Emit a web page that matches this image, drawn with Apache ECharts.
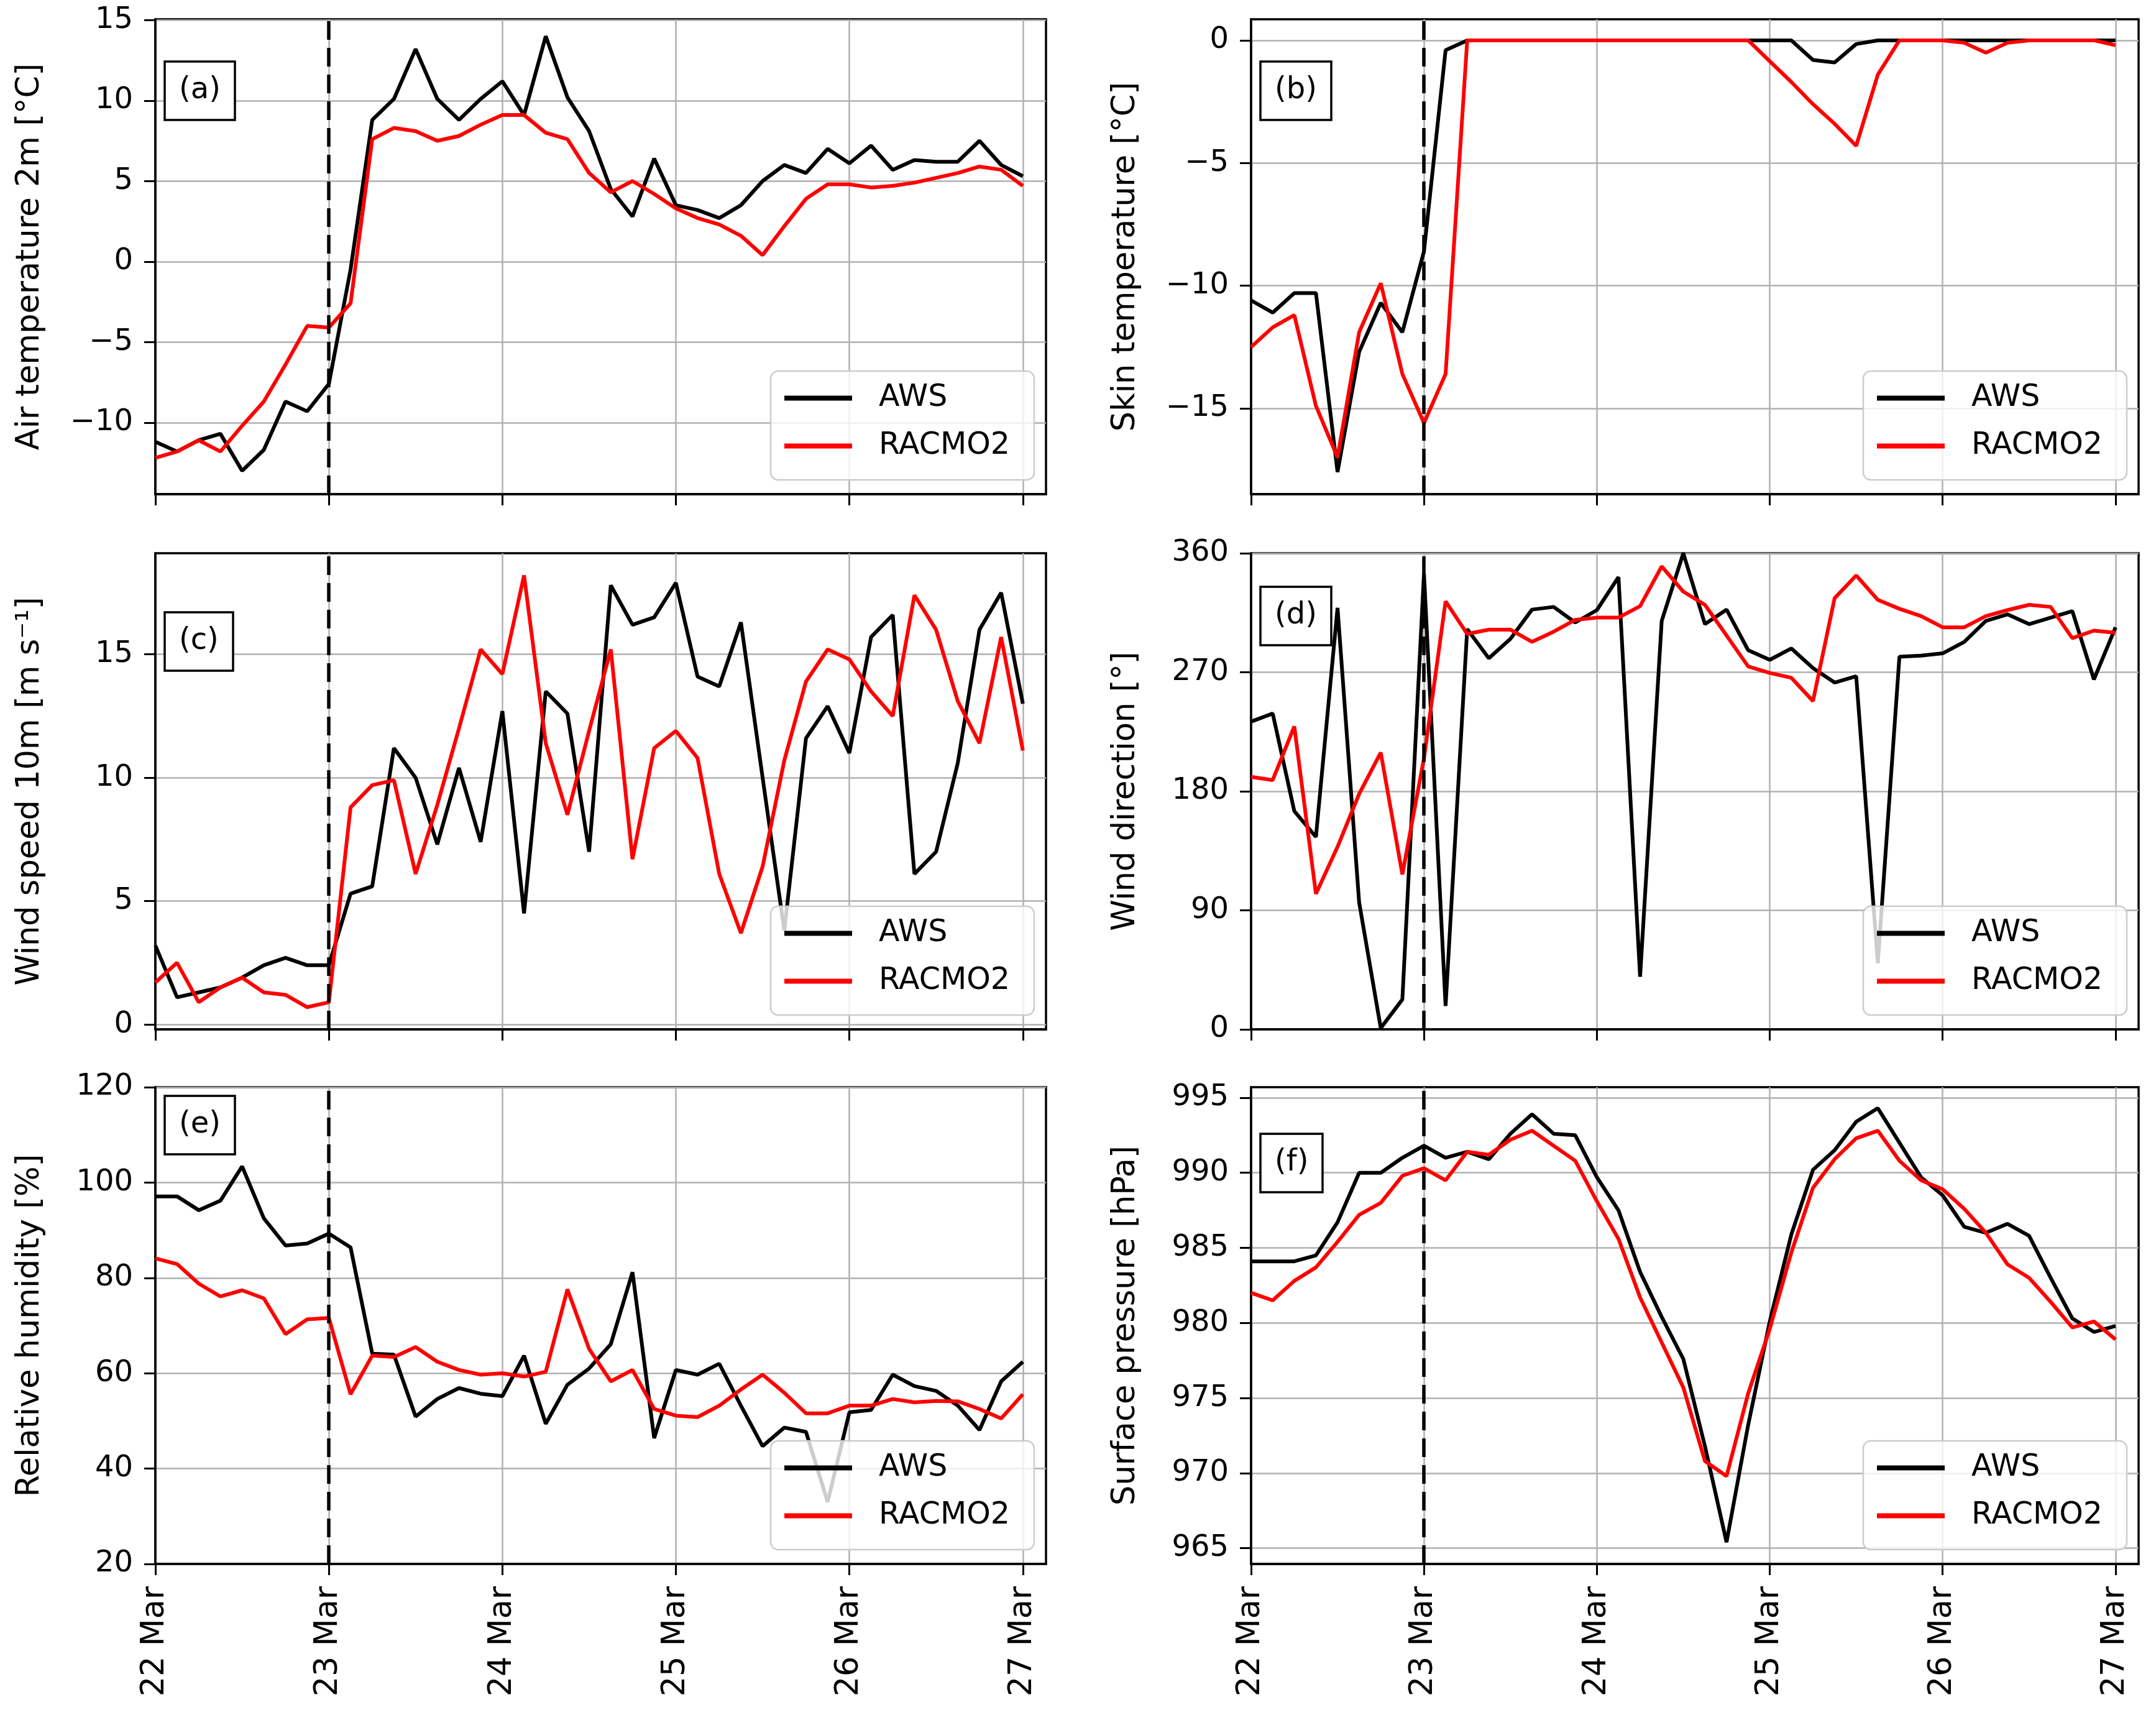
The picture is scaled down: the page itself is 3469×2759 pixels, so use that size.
<!DOCTYPE html>
<html>
<head>
<meta charset="utf-8">
<script src="https://cdn.jsdelivr.net/npm/echarts@6/dist/echarts.min.js"></script>
<style>
html, body { margin: 0; background: #fff; }
#chart { width: 3469px; height: 2759px; }
</style>
</head>
<body>
<div id="chart"></div>
<script>
// time axis: hours since 22 Mar 00 UTC, 3-hourly
var hours = [0, 3, 6, 9, 12, 15, 18, 21, 24, 27, 30, 33, 36, 39, 42, 45, 48, 51, 54, 57, 60,
             63, 66, 69, 72, 75, 78, 81, 84, 87, 90, 93, 96, 99, 102, 105, 108, 111, 114, 117, 120];
var dayTicks = [0, 24, 48, 72, 96, 120];
var dayLabels = ['22 Mar', '23 Mar', '24 Mar', '25 Mar', '26 Mar', '27 Mar'];

// (a) air temperature 2m
var awsAir = [-11.2, -11.8, -11.1, -10.7, -13.0, -11.7, -8.7, -9.3, -7.6, -0.5, 8.8, 10.1, 13.2, 10.1, 8.8, 10.1, 11.2, 9.1, 14.0, 10.2, 8.1,
              4.5, 2.8, 6.4, 3.5, 3.2, 2.7, 3.5, 5.0, 6.0, 5.5, 7.0, 6.1, 7.2, 5.7, 6.3, 6.2, 6.2, 7.5, 6.0, 5.3];
var racmoAir = [-12.2, -11.8, -11.1, -11.8, -10.2, -8.7, -6.4, -4.0, -4.1, -2.6, 7.6, 8.3, 8.1, 7.5, 7.8, 8.5, 9.1, 9.1, 8.0, 7.6, 5.5,
                4.3, 5.0, 4.2, 3.3, 2.7, 2.3, 1.6, 0.4, 2.2, 3.9, 4.8, 4.8, 4.6, 4.7, 4.9, 5.2, 5.5, 5.9, 5.7, 4.7];
var airTicks = [-10, -5, 0, 5, 10, 15];

// (b) skin temperature
var awsSkin = [-10.6, -11.1, -10.3, -10.3, -17.6, -12.7, -10.7, -11.9, -8.6, -0.4, 0, 0, 0, 0, 0, 0, 0, 0, 0, 0, 0,
               0, 0, 0, 0, 0, -0.8, -0.9, -0.15, 0, 0, 0, 0, 0, 0, 0, 0, 0, 0, 0, 0];
var racmoSkin = [-12.5, -11.7, -11.2, -14.9, -17.0, -11.9, -9.9, -13.6, -15.6, -13.6, 0, 0, 0, 0, 0, 0, 0, 0, 0, 0, 0,
                 0, 0, 0, -0.85, -1.7, -2.6, -3.4, -4.3, -1.4, 0, 0, 0, -0.1, -0.5, -0.1, 0, 0, 0, 0, -0.2];
var skinTicks = [-15, -10, -5, 0];

// (c) wind speed 10m
var awsWs = [3.2, 1.1, 1.3, 1.5, 1.9, 2.4, 2.7, 2.4, 2.4, 5.3, 5.6, 11.2, 10.0, 7.3, 10.4, 7.4, 12.7, 4.5, 13.5, 12.6, 7.0,
             17.8, 16.2, 16.5, 17.9, 14.1, 13.7, 16.3, 10.0, 3.8, 11.6, 12.9, 11.0, 15.7, 16.6, 6.1, 7.0, 10.6, 16.0, 17.5, 13.0];
var racmoWs = [1.7, 2.5, 0.9, 1.5, 1.9, 1.3, 1.2, 0.7, 0.9, 8.8, 9.7, 9.9, 6.1, 8.9, 12.0, 15.2, 14.2, 18.2, 11.4, 8.5, 11.9,
               15.2, 6.7, 11.2, 11.9, 10.8, 6.1, 3.7, 6.4, 10.7, 13.9, 15.2, 14.8, 13.5, 12.5, 17.4, 16.0, 13.1, 11.4, 15.7, 11.1];
var wsTicks = [0, 5, 10, 15];

// (d) wind direction
var awsWd = [232.7, 238.8, 165, 145.5, 318.7, 96, 1, 22.6, 344.5, 17.7, 302.7, 280.6, 295.3, 317.4, 319.4, 307.6, 317, 342, 39.8, 308.8, 360,
             306.4, 317.4, 286.7, 279.4, 288, 273.2, 262.2, 267, 50, 281.8, 282.6, 284.3, 293, 308.8, 313.8, 306.4, 311.3, 316.2, 264.6, 304];
var racmoWd = [190.9, 188.5, 229, 102.5, 138, 178, 209.3, 117.2, 205, 323.6, 299, 302.2, 302.2, 293, 300.7, 309.6, 311.3, 311.3, 320, 350, 331,
               321, 297.8, 274.4, 269.5, 265.8, 248.2, 326, 343.2, 324.8, 318, 312.5, 304, 304, 312.5, 317, 321, 319.4, 295.8, 301.5, 299.8];
var wdTicks = [0, 90, 180, 270, 360];

// (e) relative humidity
var awsRh = [97.1, 97.1, 94.2, 96.2, 103.4, 92.5, 86.8, 87.2, 89.3, 86.4, 64.1, 63.9, 50.9, 54.6, 56.9, 55.7, 55.2, 63.7, 49.4, 57.6, 61.0,
             66.1, 81.2, 46.4, 60.7, 59.7, 62.0, 53.2, 44.7, 48.6, 47.7, 33.0, 51.8, 52.3, 59.7, 57.3, 56.3, 53.2, 48.1, 58.3, 62.4];
var racmoRh = [84.1, 82.9, 78.8, 76.1, 77.4, 75.7, 68.2, 71.3, 71.6, 55.6, 63.7, 63.4, 65.5, 62.4, 60.7, 59.7, 60.0, 59.3, 60.3, 77.6, 65.1,
               58.3, 60.7, 52.5, 51.1, 50.8, 53.2, 56.6, 59.7, 55.9, 51.6, 51.6, 53.2, 53.2, 54.6, 53.9, 54.2, 54.1, 52.5, 50.5, 55.6];
var rhTicks = [20, 40, 60, 80, 100, 120];

// (f) surface pressure
var awsP = [984.1, 984.1, 984.1, 984.5, 986.7, 990.0, 990.0, 991.0, 991.8, 991.0, 991.4, 990.9, 992.6, 993.9, 992.6, 992.5, 989.7, 987.5, 983.4, 980.4, 977.6,
            971.8, 965.4, 973.2, 980.1, 985.9, 990.2, 991.5, 993.4, 994.3, 992.0, 989.7, 988.5, 986.4, 986.0, 986.6, 985.8, 983.0, 980.3, 979.4, 979.8];
var racmoP = [982.0, 981.5, 982.8, 983.7, 985.4, 987.2, 988.0, 989.8, 990.3, 989.5, 991.4, 991.2, 992.2, 992.8, 991.8, 990.8, 988.1, 985.6, 981.7, 978.7, 975.7,
              970.8, 969.8, 975.3, 979.6, 984.7, 989.0, 990.9, 992.3, 992.8, 990.8, 989.5, 988.9, 987.6, 986.0, 983.9, 983.0, 981.4, 979.7, 980.1, 978.9];
var pTicks = [965, 970, 975, 980, 985, 990, 995];

var panels = [
    {tag: '(a)', name: 'Air temperature 2m [°C]', aws: awsAir, racmo: racmoAir, ticks: airTicks, min: -14.45, max: 15.05, boxTop: 99},
    {tag: '(b)', name: 'Skin temperature [°C]', aws: awsSkin, racmo: racmoSkin, ticks: skinTicks, min: -18.5, max: 0.86, boxTop: 99},
    {tag: '(c)', name: 'Wind speed 10m [m s\u207B\u00B9]', aws: awsWs, racmo: racmoWs, ticks: wsTicks, min: -0.2, max: 19.1, boxTop: 985},
    {tag: '(d)', name: 'Wind direction [°]', aws: awsWd, racmo: racmoWd, ticks: wdTicks, min: 0, max: 360, boxTop: 944},
    {tag: '(e)', name: 'Relative humidity [%]', aws: awsRh, racmo: racmoRh, ticks: rhTicks, min: 20, max: 120, boxTop: 1763},
    {tag: '(f)', name: 'Surface pressure [hPa]', aws: awsP, racmo: racmoP, ticks: pTicks, min: 963.95, max: 995.7, boxTop: 1824}
];

var colLeft = [250, 2013];
var colWidth = [1433, 1428];
var rowTop = [31, 890, 1749];
var rowHeight = [764, 766, 767];

function pairs(vals) {
    return hours.map(function (h, i) { return [h, vals[i]]; });
}
function minusFmt(v) {
    return v < 0 ? '\u2212' + Math.abs(v) : String(v);
}

var grids = [], xAxes = [], yAxes = [], series = [], legends = [], titles = [];

panels.forEach(function (p, k) {
    var col = k % 2, row = Math.floor(k / 2);
    var gl = colLeft[col], gw = colWidth[col], gt = rowTop[row], gh = rowHeight[row];
    grids.push({
        left: gl, top: gt, width: gw, height: gh,
        show: true, borderColor: '#000', borderWidth: 3.5, backgroundColor: 'transparent',
        containLabel: false, outerBoundsMode: 'none'
    });
    xAxes.push({
        type: 'value', gridIndex: k, min: 0, max: 123.2,
        axisLine: {show: true, onZero: false, lineStyle: {color: '#000', width: 3.5}},
        axisTick: {show: true, customValues: dayTicks, length: 18, lineStyle: {color: '#000', width: 3}},
        axisLabel: {
            show: row === 2, customValues: dayTicks, rotate: 90, margin: 36,
            fontSize: 51, color: '#000',
            formatter: function (v) { return dayLabels[dayTicks.indexOf(v)]; }
        },
        splitLine: {show: true, lineStyle: {color: '#b0b0b0', width: 2.5}}
    });
    yAxes.push({
        type: 'value', gridIndex: k, min: p.min, max: p.max,
        name: p.name, nameLocation: 'middle', nameGap: 176,
        nameTextStyle: {fontSize: 51, color: '#000'},
        axisLine: {show: true, onZero: false, lineStyle: {color: '#000', width: 3.5}},
        axisTick: {show: true, customValues: p.ticks, length: 18, lineStyle: {color: '#000', width: 3}},
        axisLabel: {customValues: p.ticks, margin: 36, fontSize: 48, color: '#000', formatter: minusFmt},
        splitLine: {show: true, lineStyle: {color: '#b0b0b0', width: 2.5}}
    });
    series.push({
        name: 'AWS', type: 'line', xAxisIndex: k, yAxisIndex: k,
        data: pairs(p.aws), symbol: 'none', lineStyle: {color: '#000', width: 6}, itemStyle: {color: '#000'},
        markLine: {
            silent: true, symbol: ['none', 'none'], label: {show: false},
            lineStyle: {color: '#000', width: 5.5, type: [30, 13]},
            data: [{xAxis: 24}]
        },
        z: 3
    });
    series.push({
        name: 'RACMO2', type: 'line', xAxisIndex: k, yAxisIndex: k,
        data: pairs(p.racmo), symbol: 'none', lineStyle: {color: '#ff0000', width: 6}, itemStyle: {color: '#ff0000'},
        z: 4
    });
    legends.push({
        data: ['AWS', 'RACMO2'], orient: 'vertical',
        left: gl + gw - 25 - 418, top: gt + gh - 25 - 173,
        itemWidth: 109, itemHeight: 48, itemGap: 28,
        padding: [19, 39, 30, 18],
        itemStyle: {opacity: 0},
        lineStyle: {width: 8},
        backgroundColor: 'rgba(255,255,255,0.8)', borderColor: '#cccccc', borderWidth: 2.5, borderRadius: 12,
        textStyle: {fontSize: 49, color: '#000', padding: [0, 0, 0, 38]},
        selectedMode: false, z: 10
    });
    titles.push({
        text: p.tag, left: gl + 15, top: p.boxTop,
        padding: [23, 23, 23, 23],
        borderColor: '#000', borderWidth: 3.5, backgroundColor: '#fff',
        textStyle: {fontSize: 48, fontWeight: 'normal', color: '#000'},
        z: 10
    });
});

var myChart = echarts.init(document.getElementById('chart'));
myChart.setOption({
    animation: false,
    backgroundColor: '#fff',
    textStyle: {fontFamily: 'DejaVu Sans'},
    title: titles,
    legend: legends,
    grid: grids,
    xAxis: xAxes,
    yAxis: yAxes,
    series: series
});
</script>
</body>
</html>
